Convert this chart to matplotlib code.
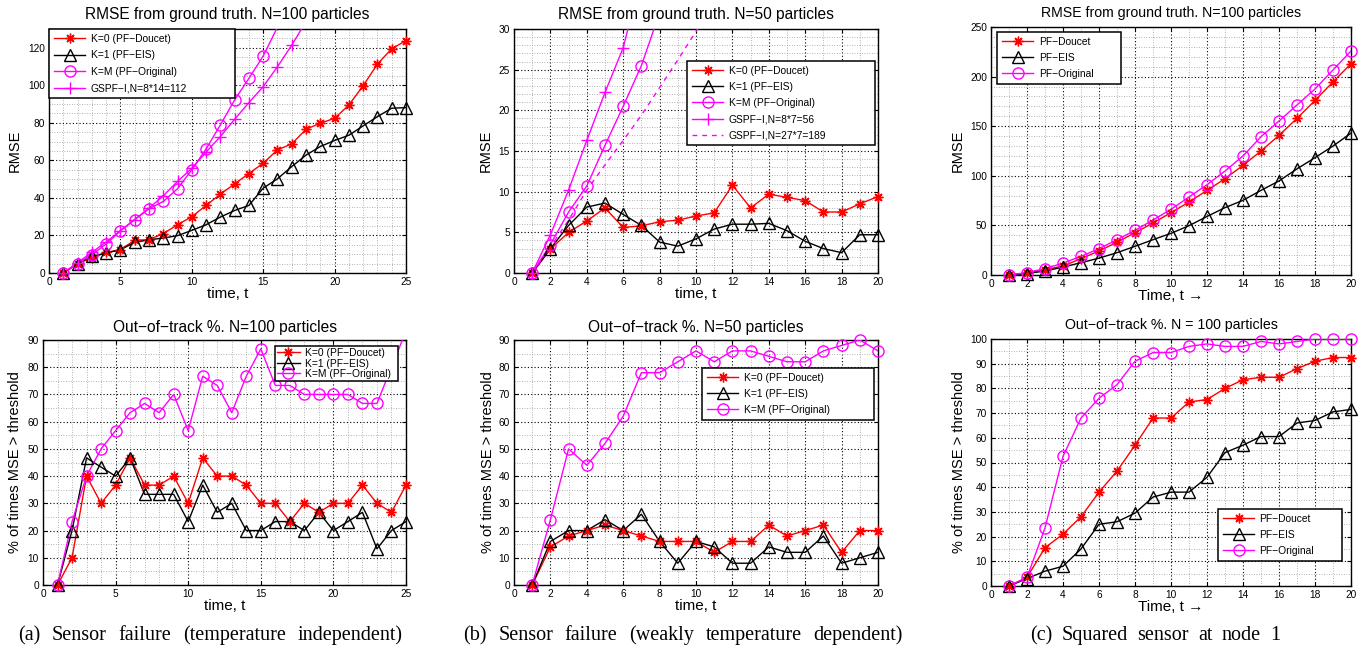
import matplotlib
matplotlib.use('Agg')
import matplotlib.pyplot as plt
from matplotlib.lines import Line2D
from matplotlib.ticker import MultipleLocator

plt.rcParams['font.family'] = ['Liberation Sans', 'DejaVu Sans']

# ---------------- data ----------------
t_a = list(range(1, 26))
a_rmse_doucet = [0, 5, 8, 11, 12.4, 17.5, 17.7, 21, 25.7, 30, 36, 42, 47.5, 53, 58.5,
                 65.6, 68.8, 76.6, 79.8, 82.4, 89.5, 99.8, 111.3, 119.5, 123.8]
a_rmse_eis = [0, 5, 8.9, 10.6, 12.4, 16.3, 17.7, 18.6, 19.9, 22.7, 25.7, 29.8, 33.3, 36,
              45.2, 50.2, 56.7, 62.8, 67.4, 70.6, 73.4, 78.4, 83.3, 87.8, 88.1]
a_rmse_orig = [0, 5, 9.8, 15.4, 22.5, 28.4, 34.2, 38.1, 44.9, 55, 66.1, 78.9, 92.2, 103.7,
               115.6, 131]
a_rmse_gspf = [0, 5.5, 11, 16.5, 22.5, 28.5, 34.5, 41.1, 48.8, 55.8, 64.4, 72.7, 81.9,
               90.8, 99.3, 109.9, 121.4, 134]
a_oot_doucet = [0, 10, 40, 30, 36.7, 46.7, 36.7, 36.7, 40, 30, 46.7, 40, 40, 36.7, 30,
                30, 23.3, 30, 26.7, 30, 30, 36.7, 30, 26.7, 36.7]
a_oot_eis = [0, 20, 46.7, 43.3, 40, 46.7, 33.3, 33.3, 33.3, 23.3, 36.7, 26.7, 30, 20, 20,
             23.3, 23.3, 20, 26.7, 20, 23.3, 26.7, 13.3, 20, 23.3]
a_oot_orig = [0, 23.3, 40, 50, 56.7, 63.3, 66.7, 63.3, 70, 56.7, 76.7, 73.3, 63.3, 76.7,
              86.7, 73.3, 73.3, 70, 70, 70, 70, 66.7, 66.7, 80, 93.3]

t_b = list(range(1, 21))
b_rmse_doucet = [0, 2.95, 5.0, 6.4, 8.0, 5.6, 5.8, 6.3, 6.5, 7.0, 7.4, 10.8, 8.0, 9.7,
                 9.3, 8.9, 7.5, 7.5, 8.5, 9.4]
b_rmse_eis = [0, 3.0, 5.85, 8.1, 8.6, 7.2, 5.85, 3.8, 3.3, 4.2, 5.4, 6.0, 6.0, 6.1, 5.2,
              3.9, 3.0, 2.5, 4.7, 4.7]
b_rmse_orig = [0, 3.5, 7.5, 10.7, 15.7, 20.5, 25.5, 32.0]
b_rmse_gspf56 = [0, 4.7, 10.2, 16.3, 22.2, 27.7, 36.5]
b_rmse_gspf189 = [0, 3.2, 6.5, 10.2, 13.3, 16.3, 19.4, 22.8, 26.2, 29.7, 33]
b_oot_doucet = [0, 14, 18, 20, 22, 20, 18, 16, 16, 16, 12, 16, 16, 22, 18, 20, 22, 12, 20, 20]
b_oot_eis = [0, 16, 20, 20, 24, 20, 26, 16, 8, 16, 14, 8, 8, 14, 12, 12, 18, 8, 10, 12]
b_oot_orig = [0, 24, 50, 44, 52, 62, 78, 78, 82, 86, 82, 86, 86, 84, 82, 82, 86, 88, 90, 86]

t_c = list(range(1, 21))
c_rmse_doucet = [0, 2, 5.4, 9, 16.5, 24.2, 33, 42.7, 52.4, 62.8, 73.6, 85.3, 97.1, 110.5,
                 125, 140.8, 157.9, 176, 194.6, 213]
c_rmse_eis = [0, 1.5, 4, 8, 12.4, 17, 22.5, 28.9, 35.6, 42, 49.7, 59, 67.9, 75.3, 85.3,
              94.8, 107, 118.3, 130, 143]
c_rmse_orig = [0, 2.5, 6.4, 12, 18.8, 26.5, 35.6, 45, 55.4, 66.2, 78.6, 91, 104.8, 120,
               139.4, 155.2, 171.4, 187.5, 206.7, 225.8]
c_oot_doucet = [0, 3.5, 15.5, 21, 28, 38, 46.5, 57, 68, 68, 74.5, 75.5, 80, 83.5, 84.5,
                84.5, 88, 91, 92.5, 92.5]
c_oot_eis = [0, 3, 6, 8, 15, 25, 26, 29.5, 36, 38, 38, 44, 54, 57, 60.5, 60.5, 66, 67,
             70.5, 71.5]
c_oot_orig = [0, 3.5, 23.5, 52.5, 68, 76, 81.5, 91, 94.5, 94.5, 97, 98, 97, 97, 99, 98,
              99, 100, 100, 100]

labels_k = ['K=0 (PF\u2212Doucet)', 'K=1 (PF\u2212EIS)', 'K=M (PF\u2212Original)']
labels_pf = ['PF\u2212Doucet', 'PF\u2212EIS', 'PF\u2212Original']
label_gspf_a = 'GSPF\u2212I,N=8*14=112'
label_gspf_b1 = 'GSPF\u2212I,N=8*7=56'
label_gspf_b2 = 'GSPF\u2212I,N=27*7=189'

captions = ['(a) Sensor failure (temperature independent)',
            '(b) Sensor failure (weakly temperature dependent)',
            '(c) Squared sensor at node 1']

# ---------------- styles ----------------
RED = '#ff0000'
MAG = '#ff00ff'
BLK = '#000000'
STY = {
    'doucet': dict(color=RED, marker=(8, 2, 0), ms=7, mew=1.0),
    'eis': dict(color=BLK, marker='^', ms=8, mew=1.0, mfc='none'),
    'orig': dict(color=MAG, marker='o', ms=8, mew=1.0, mfc='none'),
    'gspf': dict(color=MAG, marker='+', ms=8, mew=1.0),
    'dash': dict(color=MAG, marker=None, ls=(0, (3.5, 3.5))),
}
LW = 1.0
W, H = 1369, 646

fig = plt.figure(figsize=(W / 100, H / 100), dpi=100)


def px_axes(l, t, r, b):
    return fig.add_axes([l / W, 1 - b / H, (r - l) / W, (b - t) / H])


def series(ax, x, y, key, ylim):
    st = dict(STY[key])
    ls = st.pop('ls', '-')
    color = st.pop('color')
    ax.plot(x[:len(y)], y, color=color, lw=LW, ls=ls, clip_on=True, zorder=3)
    if st.get('marker') is not None:
        xs = [xi for xi, yi in zip(x, y) if ylim[0] <= yi <= ylim[1]]
        ys = [yi for yi in y if ylim[0] <= yi <= ylim[1]]
        ax.plot(xs, ys, ls='none', color=color, mec=color, clip_on=False, zorder=4, **st)
    h = dict(STY[key])
    h.pop('ls', None)
    h.pop('color')
    return Line2D([], [], color=color, lw=LW, ls=ls, **h)


def style_axes(ax, xlim, xmaj, xmin, ylim, ymaj, ymin):
    ax.set_xlim(*xlim)
    ax.set_ylim(*ylim)
    ax.xaxis.set_major_locator(MultipleLocator(xmaj))
    ax.xaxis.set_minor_locator(MultipleLocator(xmin))
    ax.yaxis.set_major_locator(MultipleLocator(ymaj))
    ax.yaxis.set_minor_locator(MultipleLocator(ymin))
    ax.grid(True, which='major', color='black', ls=(0, (1, 2)), lw=0.8)
    ax.grid(True, which='minor', color='#9a9a9a', ls=(0, (1, 2)), lw=0.6)
    ax.tick_params(which='major', direction='in', length=3, width=0.8, top=True,
                   right=True, labelsize=7.3, pad=3)
    ax.tick_params(which='minor', length=0)
    for s in ax.spines.values():
        s.set_linewidth(1.0)
    ax.set_axisbelow(True)


def legend(ax, handles, labels, box, fs=7.4, spacing=0.6, hl=3.1, bpad=0.45):
    l, t, r, b = box
    leg = ax.legend(handles, labels, loc='upper left',
                    bbox_to_anchor=(l / W, 1 - b / H, (r - l) / W, (b - t) / H),
                    bbox_transform=fig.transFigure, mode='expand', borderaxespad=0,
                    fontsize=fs, labelspacing=spacing, handlelength=hl,
                    handletextpad=0.5, borderpad=bpad, numpoints=1,
                    fancybox=False, framealpha=1, edgecolor='black')
    leg.get_frame().set_linewidth(1.1)
    leg.set_zorder(10)
    return leg


# ---------------- (a) top ----------------
ax = px_axes(49, 29, 406, 273)
yl = (0, 130)
style_axes(ax, (0, 25), 5, 1, yl, 20, 5)
h1 = series(ax, t_a, a_rmse_doucet, 'doucet', yl)
h2 = series(ax, t_a, a_rmse_eis, 'eis', yl)
h3 = series(ax, t_a, a_rmse_orig, 'orig', yl)
h4 = series(ax, t_a, a_rmse_gspf, 'gspf', yl)
ax.set_title('RMSE from ground truth. N=100 particles', fontsize=11.2, pad=7)
ax.set_xlabel('time, t', fontsize=11, labelpad=0)
ax.set_ylabel('RMSE', fontsize=10.5)
ax.yaxis.set_label_coords(-0.076, 0.5)
legend(ax, [h1, h2, h3, h4], labels_k + [label_gspf_a], (49, 29, 235, 103), spacing=0.65)

# ---------------- (a) bottom ----------------
ax = px_axes(43, 340, 406, 585)
yl = (0, 90)
style_axes(ax, (0, 25), 5, 1, yl, 10, 5)
h1 = series(ax, t_a, a_oot_doucet, 'doucet', yl)
h2 = series(ax, t_a, a_oot_eis, 'eis', yl)
h3 = series(ax, t_a, a_oot_orig, 'orig', yl)
ax.set_title('Out\u2212of\u2212track %. N=100 particles', fontsize=11.2, pad=6)
ax.set_xlabel('time, t', fontsize=11, labelpad=0)
ax.set_ylabel('% of times MSE > threshold', fontsize=10.5)
ax.yaxis.set_label_coords(-0.058, 0.5)
legend(ax, [h1, h2, h3], labels_k, (275, 346, 398, 383), spacing=0.05, hl=2.2, bpad=0.2)

# ---------------- (b) top ----------------
ax = px_axes(514, 29, 878, 273)
yl = (0, 30)
style_axes(ax, (0, 20), 2, 1, yl, 5, 1)
h1 = series(ax, t_b, b_rmse_doucet, 'doucet', yl)
h2 = series(ax, t_b, b_rmse_eis, 'eis', yl)
h3 = series(ax, t_b, b_rmse_orig, 'orig', yl)
h4 = series(ax, t_b, b_rmse_gspf56, 'gspf', yl)
h5 = series(ax, t_b, b_rmse_gspf189, 'dash', yl)
ax.set_title('RMSE from ground truth. N=50 particles', fontsize=11.2, pad=7)
ax.set_xlabel('time, t', fontsize=11, labelpad=0)
ax.set_ylabel('RMSE', fontsize=10.5)
ax.yaxis.set_label_coords(-0.058, 0.5)
legend(ax, [h1, h2, h3, h4, h5], labels_k + [label_gspf_b1, label_gspf_b2],
       (687, 61, 875, 154), spacing=0.6)

# ---------------- (b) bottom ----------------
ax = px_axes(514, 340, 878, 585)
yl = (0, 90)
style_axes(ax, (0, 20), 2, 1, yl, 10, 5)
h1 = series(ax, t_b, b_oot_doucet, 'doucet', yl)
h2 = series(ax, t_b, b_oot_eis, 'eis', yl)
h3 = series(ax, t_b, b_oot_orig, 'orig', yl)
ax.set_title('Out\u2212of\u2212track %. N=50 particles', fontsize=11.2, pad=6)
ax.set_xlabel('time, t', fontsize=11, labelpad=0)
ax.set_ylabel('% of times MSE > threshold', fontsize=10.5)
ax.yaxis.set_label_coords(-0.052, 0.5)
legend(ax, [h1, h2, h3], labels_k, (702, 368, 874, 426), spacing=0.6)

# ---------------- (c) top ----------------
ax = px_axes(991, 27, 1351, 275)
yl = (0, 250)
style_axes(ax, (0, 20), 2, 1, yl, 50, 10)
h1 = series(ax, t_c, c_rmse_doucet, 'doucet', yl)
h2 = series(ax, t_c, c_rmse_eis, 'eis', yl)
h3 = series(ax, t_c, c_rmse_orig, 'orig', yl)
ax.set_title('RMSE from ground truth. N=100 particles', fontsize=10.2, pad=7)
ax.set_xlabel('Time, t \u2192', fontsize=11, labelpad=0)
ax.set_ylabel('RMSE', fontsize=10.5)
ax.yaxis.set_label_coords(-0.072, 0.5)
legend(ax, [h1, h2, h3], labels_pf, (997, 32, 1121, 89), spacing=0.6)

# ---------------- (c) bottom ----------------
ax = px_axes(991, 339, 1351, 586)
yl = (0, 100)
style_axes(ax, (0, 20), 2, 1, yl, 10, 5)
h1 = series(ax, t_c, c_oot_doucet, 'doucet', yl)
h2 = series(ax, t_c, c_oot_eis, 'eis', yl)
h3 = series(ax, t_c, c_oot_orig, 'orig', yl)
ax.set_title('Out\u2212of\u2212track %. N = 100 particles', fontsize=10.2, pad=7)
ax.set_xlabel('Time, t \u2192', fontsize=11, labelpad=0)
ax.set_ylabel('% of times MSE > threshold', fontsize=10.5)
ax.yaxis.set_label_coords(-0.069, 0.5)
legend(ax, [h1, h2, h3], labels_pf, (1218, 509, 1342, 566), spacing=0.6)

# ---------------- captions (justified between given extents) ----------------
cap_extent = [(18, 403), (463, 903), (1030, 1280)]
renderer = fig.canvas.get_renderer()
for cap, (x0, x1) in zip(captions, cap_extent):
    words = cap.split(' ')
    txts = [fig.text(0, 1 - 640 / H, w, fontsize=14.5, family='Liberation Serif',
                     ha='left', va='baseline') for w in words]
    widths = [t.get_window_extent(renderer).width for t in txts]
    gap = (x1 - x0 - sum(widths)) / (len(words) - 1)
    x = x0
    for t, wd in zip(txts, widths):
        t.set_x(x / W)
        x += wd + gap

fig.savefig('out.png', dpi=100)
